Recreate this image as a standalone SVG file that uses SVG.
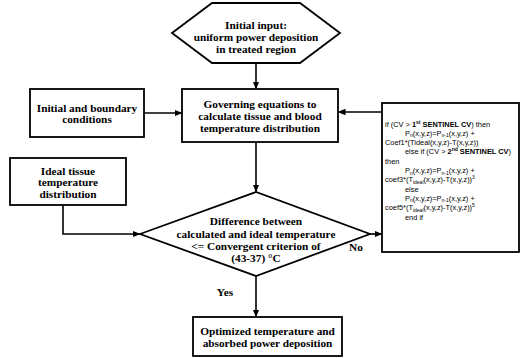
<svg xmlns="http://www.w3.org/2000/svg" width="520" height="358" viewBox="0 0 520 358">
<style>
.s{fill:#fff;stroke:#000;stroke-width:1.8}
.t{font-family:"Liberation Serif",serif;font-weight:bold;font-size:11.3px;text-anchor:middle;fill:#000}
.c{font-family:"Liberation Sans",sans-serif;font-size:7.4px;fill:#000}
.b{font-weight:bold}
.sup{font-size:5px}
.sub{font-size:5px}
.l{fill:none;stroke:#000;stroke-width:1.6}
</style>
<defs>
<marker id="a" markerWidth="8" markerHeight="8" refX="7" refY="4" orient="auto" markerUnits="userSpaceOnUse">
<path d="M0,0.8 L8,4 L0,7.2 Z" fill="#000"/>
</marker>
</defs>
<rect width="520" height="358" fill="#fff"/>
<g id="connectors">
<line class="l" x1="256" y1="63" x2="256" y2="88.5" marker-end="url(#a)"/>
<line class="l" x1="144" y1="113" x2="181.5" y2="113" marker-end="url(#a)"/>
<line class="l" x1="382" y1="112" x2="338.5" y2="112" marker-end="url(#a)"/>
<line class="l" x1="256" y1="142" x2="256" y2="191.5" marker-end="url(#a)"/>
<polyline class="l" points="63,205 63,234 139.5,234" marker-end="url(#a)"/>
<line class="l" x1="370" y1="234" x2="381.5" y2="234" marker-end="url(#a)"/>
<line class="l" x1="256" y1="276" x2="256" y2="316.5" marker-end="url(#a)"/>
</g>
<g id="initial-input">
<polygon class="s" points="172,33 212,3 300,3 340,33 300,63 212,63"/>
<text class="t" x="256" y="29">Initial input:</text>
<text class="t" x="256" y="41">uniform power deposition</text>
<text class="t" x="256" y="53">in treated region</text>
</g>
<g id="boundary">
<rect class="s" x="30" y="89" width="114" height="48"/>
<text class="t" x="87" y="111.5">Initial and boundary</text>
<text class="t" x="87" y="123">conditions</text>
</g>
<g id="governing">
<rect class="s" x="182" y="89" width="156" height="53"/>
<text class="t" x="260" y="107.5">Governing equations to</text>
<text class="t" x="260" y="119.5">calculate tissue and blood</text>
<text class="t" x="260" y="131.5">temperature distribution</text>
</g>
<g id="ideal">
<rect class="s" x="10" y="158" width="116" height="47"/>
<text class="t" x="68" y="174.5">Ideal tissue</text>
<text class="t" x="68" y="186">temperature</text>
<text class="t" x="68" y="197.5">distribution</text>
</g>
<g id="decision">
<polygon class="s" points="140,234 256,192 370,234 256,276"/>
<text class="t" x="256" y="225">Difference between</text>
<text class="t" x="256" y="237.5">calculated and ideal temperature</text>
<text class="t" x="256" y="250">&lt;= Convergent criterion of</text>
<text class="t" x="256" y="262">(43-37) °C</text>
</g>
<g id="update">
<rect class="s" x="382" y="103" width="137" height="149"/>
<text class="c" x="385" y="126.5">if (CV &gt; <tspan class="b">1<tspan class="sup" dy="-3">st</tspan><tspan dy="3"> SENTINEL CV</tspan></tspan>) then</text>
<text class="c" x="405" y="135.8">P<tspan class="sub" dy="1.5">n</tspan><tspan dy="-1.5">(x,y,z)=P</tspan><tspan class="sub" dy="1.5">n-1</tspan><tspan dy="-1.5">(x,y,z) +</tspan></text>
<text class="c" x="385" y="145.1">Coef1*(Tideal(x,y,z)-T(x,y,z))</text>
<text class="c" x="405" y="154.4">else if (CV &gt; <tspan class="b">2<tspan class="sup" dy="-3">nd</tspan><tspan dy="3"> SENTINEL CV</tspan></tspan>)</text>
<text class="c" x="385" y="163.7">then</text>
<text class="c" x="405" y="173">P<tspan class="sub" dy="1.5">n</tspan><tspan dy="-1.5">(x,y,z)=P</tspan><tspan class="sub" dy="1.5">n-1</tspan><tspan dy="-1.5">(x,y,z) +</tspan></text>
<text class="c" x="385" y="182.3">coef3*(T<tspan class="sub" dy="1.5">ideal</tspan><tspan dy="-1.5">(x,y,z)-T(x,y,z))</tspan><tspan class="sup" dy="-3">3</tspan></text>
<text class="c" x="405" y="191.6">else</text>
<text class="c" x="405" y="200.9">P<tspan class="sub" dy="1.5">n</tspan><tspan dy="-1.5">(x,y,z)=P</tspan><tspan class="sub" dy="1.5">n-1</tspan><tspan dy="-1.5">(x,y,z) +</tspan></text>
<text class="c" x="385" y="210.2">coef5*(T<tspan class="sub" dy="1.5">ideal</tspan><tspan dy="-1.5">(x,y,z)-T(x,y,z))</tspan><tspan class="sup" dy="-3">5</tspan></text>
<text class="c" x="405" y="219.5">end if</text>
</g>
<g id="labels">
<text class="t" x="356" y="251">No</text>
<text class="t" x="225" y="296">Yes</text>
</g>
<g id="result">
<rect class="s" x="193" y="317" width="149" height="39"/>
<text class="t" x="267.5" y="335">Optimized temperature and</text>
<text class="t" x="267.5" y="347">absorbed power deposition</text>
</g>
</svg>
